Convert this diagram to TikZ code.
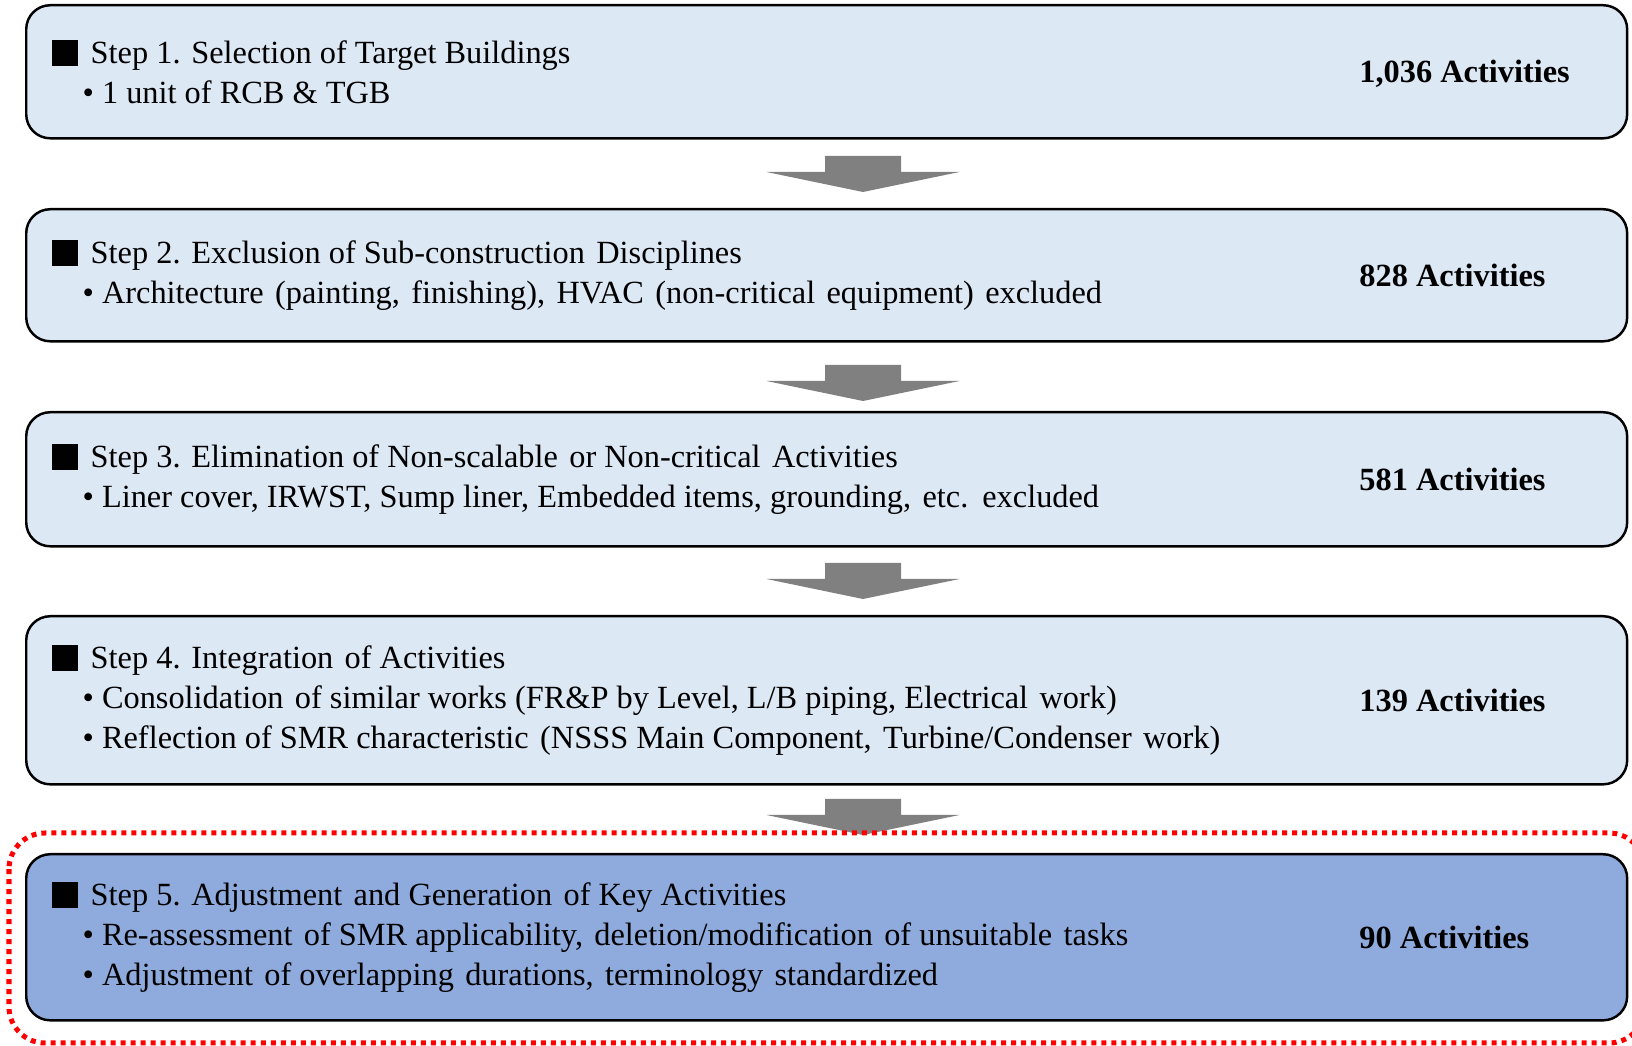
\documentclass[tikz,border=0pt]{standalone}
\usepackage{fontspec}
\setmainfont{Liberation Serif}
\usepackage{tikz}

\definecolor{paleblue}{HTML}{DDE8F5}
\definecolor{midblue}{HTML}{8FAADC}
\definecolor{arrowgray}{HTML}{808080}
\definecolor{framered}{HTML}{FF0000}

\newcommand{\blacksq}{\rule[-0.02cm]{0.26cm}{0.26cm}\hspace{0.13cm}}
\newcommand{\bul}{\hspace*{0.31cm}•\hspace{0.08cm}}
\newcommand{\wsp}{\hspace{0.1em}}

\tikzset{
  stepbox/.style={draw=black, line width=0.7pt, fill=paleblue, rounded corners=0.24cm,
    minimum width=16cm, anchor=north west, inner sep=0pt},
  steptext/.style={anchor=west, align=left, inner sep=0pt,
    font=\fontsize{9.2}{11.4}\selectfont},
  actcount/.style={anchor=west, inner sep=0pt, font=\fontsize{9.2}{11.4}\selectfont\bfseries},
  pics/downarrow/.style={code={
    \fill[arrowgray] (-38,0) -- (38,0) -- (38,16) -- (96.5,16) -- (0,36)
      -- (-96.5,16) -- (-38,16) -- cycle;
  }},
}

\begin{document}
\begin{tikzpicture}[x=0.01cm, y=-0.01cm]
  \useasboundingbox (0,0) rectangle (1632,1046);

  % Step boxes
  \node[stepbox, minimum height=1.33cm] (box1) at (25,4) {};
  \node[stepbox, minimum height=1.32cm] (box2) at (25,208) {};
  \node[stepbox, minimum height=1.34cm] (box3) at (25,411) {};
  \node[stepbox, minimum height=1.68cm] (box4) at (25,615) {};
  \node[stepbox, minimum height=1.66cm, fill=midblue] (box5) at (25,853) {};

  % Step descriptions
  \node[steptext] (txt1) at ([xshift=0.26cm]box1.west)
    {\blacksq Step 1. Selection of Target Buildings\\
     \bul 1 unit of RCB \& TGB};
  \node[steptext] (txt2) at ([xshift=0.26cm]box2.west)
    {\blacksq Step 2. Exclusion of Sub-construction \wsp Disciplines\\
     \bul Architecture \wsp(painting, \wsp finishing), \wsp HVAC \wsp(non-critical \wsp equipment) \wsp excluded};
  \node[steptext] (txt3) at ([xshift=0.26cm]box3.west)
    {\blacksq Step 3. Elimination of Non-scalable \wsp or Non-critical \wsp Activities\\
     \bul Liner cover, IRWST, Sump liner, Embedded items, grounding, \wsp etc. \wsp excluded};
  \node[steptext] (txt4) at ([xshift=0.26cm]box4.west)
    {\blacksq Step 4. Integration \wsp of Activities\\
     \bul Consolidation \wsp of similar works (FR\&P by Level, L/B piping, Electrical \wsp work)\\
     \bul Reflection of SMR characteristic \wsp(NSSS Main Component, \wsp Turbine/Condenser \wsp work)};
  \node[steptext] (txt5) at ([xshift=0.26cm]box5.west)
    {\blacksq Step 5. Adjustment \wsp and Generation \wsp of Key Activities\\
     \bul Re-assessment \wsp of SMR applicability, \wsp deletion/modification \wsp of unsuitable \wsp tasks\\
     \bul Adjustment \wsp of overlapping \wsp durations, \wsp terminology \wsp standardized};

  % Activity counts
  \node[actcount] (cnt1) at ([xshift=13.33cm,yshift=-0.02cm]box1.west) {1,036 Activities};
  \node[actcount] (cnt2) at ([xshift=13.33cm]box2.west) {828 Activities};
  \node[actcount] (cnt3) at ([xshift=13.33cm]box3.west) {581 Activities};
  \node[actcount] (cnt4) at ([xshift=13.33cm]box4.west) {139 Activities};
  \node[actcount] (cnt5) at ([xshift=13.33cm]box5.west) {90 Activities};

  % Arrows between steps
  \pic at (863,156) {downarrow};
  \pic at (863,365) {downarrow};
  \pic at (863,563) {downarrow};
  \pic at (863,799) {downarrow};

  % Highlight of the last step
  \draw[framered, line width=0.05cm, dash pattern=on 0.05cm off 0.05cm,
    rounded corners=0.36cm] (9,833) rectangle (1645,1043);
\end{tikzpicture}
\end{document}
